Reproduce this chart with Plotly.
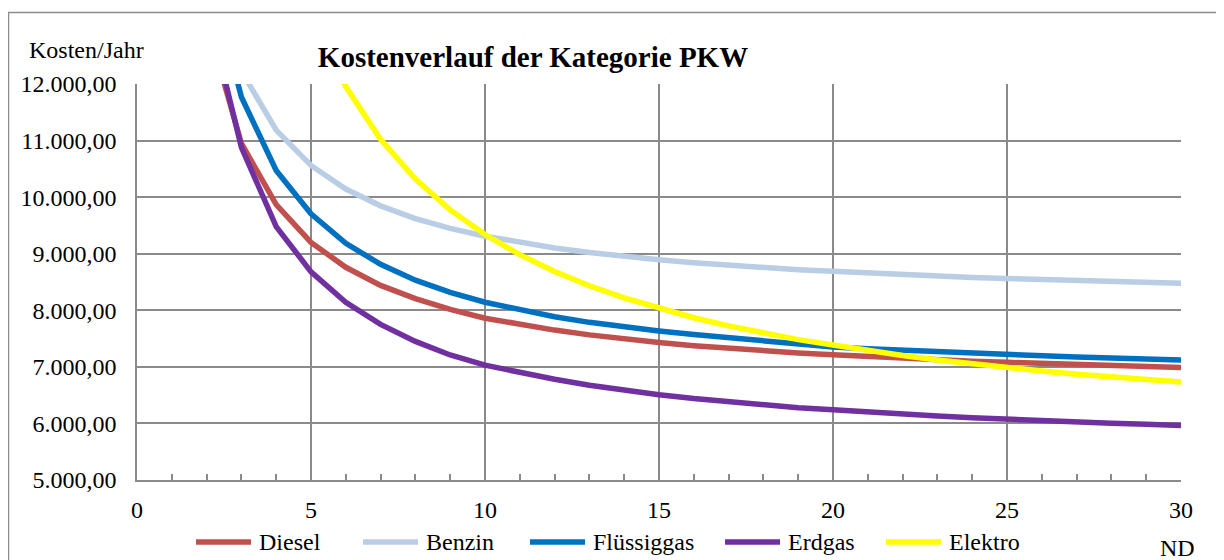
import plotly.graph_objects as go

# ---- data ----
years = list(range(2, 31))
diesel = [13100, 10950, 9870, 9200, 8760, 8440, 8205, 8015, 7860, 7750, 7650, 7565, 7493, 7430,
          7375, 7326, 7283, 7245, 7212, 7180, 7150, 7124, 7100, 7080, 7058, 7039, 7021, 7005, 6990]
benzin = [14310, 12227, 11185, 10560, 10143, 9846, 9622, 9449, 9310, 9196, 9102, 9022, 8953, 8893,
          8841, 8795, 8754, 8718, 8688, 8656, 8628, 8603, 8581, 8561, 8541, 8523, 8506, 8491, 8477]
fluessiggas = [14100, 11770, 10470, 9705, 9184, 8812, 8533, 8316, 8142, 8002, 7886, 7787, 7703, 7635,
               7572, 7516, 7467, 7423, 7350, 7318, 7290, 7262, 7238, 7215, 7194, 7174, 7155, 7137, 7120]
erdgas = [13400, 10880, 9480, 8680, 8140, 7750, 7450, 7210, 7030, 6903, 6780, 6675, 6586, 6508,
          6440, 6380, 6327, 6279, 6240, 6198, 6162, 6130, 6101, 6072, 6049, 6025, 6004, 5984, 5965]
elektro = [25030, 18490, 15220, 13260, 11954, 11020, 10320, 9775, 9339, 8983, 8686, 8434, 8219, 8035,
           7868, 7724, 7596, 7481, 7385, 7285, 7200, 7122, 7051, 6986, 6926, 6870, 6818, 6770, 6730]

series_names = ["Diesel", "Benzin", "Flüssiggas", "Erdgas", "Elektro"]
series_values = [diesel, benzin, fluessiggas, erdgas, elektro]
series_colors = ["#C0504D", "#B9CDE5", "#0070C0", "#7030A0", "#FFFF00"]

title_text = "Kostenverlauf der Kategorie PKW"
y_title = "Kosten/Jahr"
x_title = "ND"

FONT = "Liberation Serif, Times New Roman, serif"
GRID = "#8A8A8A"

# the page places the figure at an 8px offset; work in screenshot pixels
OFF = 8
W, H = 1224 - OFF, 560 - OFF
L, R, T, B = 137 - OFF, 1181 - OFF, 84 - OFF, 480 - OFF
pw, ph = R - L, B - T


def px_x(px):  # screenshot px -> paper
    return (px - OFF - L) / pw


def px_y(py):
    return (B - (py - OFF)) / ph


fig = go.Figure()
for name, vals, col in zip(series_names, series_values, series_colors):
    fig.add_trace(go.Scatter(x=years, y=vals, mode="lines", name=name,
                             line=dict(color=col, width=5.5), showlegend=False))

# custom legend (Excel-style long line samples)
legend_starts = [196, 363, 530, 725, 886]
legend_y = 542
shapes = []
annotations = []
for name, col, s in zip(series_names, series_colors, legend_starts):
    shapes.append(dict(type="line", xref="paper", yref="paper",
                       x0=px_x(s), x1=px_x(s + 55), y0=px_y(legend_y), y1=px_y(legend_y),
                       line=dict(color=col, width=5.5)))
    annotations.append(dict(text=name, xref="paper", yref="paper", x=px_x(s + 61), y=px_y(legend_y),
                            xanchor="left", yanchor="middle", showarrow=False,
                            font=dict(family=FONT, size=24, color="black")))

# outer chart border
shapes.append(dict(type="rect", xref="paper", yref="paper",
                   x0=px_x(8.5), x1=px_x(1217), y0=px_y(575), y1=px_y(12.5),
                   line=dict(color="#8C8C8C", width=1.5), fillcolor="rgba(0,0,0,0)", layer="below"))

annotations.append(dict(text=y_title, xref="paper", yref="paper", x=px_x(27), y=px_y(50),
                        xanchor="left", yanchor="middle", showarrow=False,
                        font=dict(family=FONT, size=24, color="black")))
annotations.append(dict(text=x_title, xref="paper", yref="paper", x=px_x(1177), y=px_y(548),
                        xanchor="center", yanchor="middle", showarrow=False,
                        font=dict(family=FONT, size=24, color="black")))

fig.update_layout(
    width=W, height=H,
    margin=dict(l=L, r=W - R, t=T, b=H - B, pad=0),
    paper_bgcolor="white", plot_bgcolor="white",
    separators=",.",
    font=dict(family=FONT, size=24, color="black"),
    title=dict(text="<b>" + title_text + "</b>", x=(533 - OFF) / W, xref="container", xanchor="center",
               y=1 - (57 - OFF) / H, yref="container", yanchor="middle",
               font=dict(family=FONT, size=29, color="black")),
    shapes=shapes,
    annotations=annotations,
    showlegend=False,
)

fig.update_xaxes(range=[0, 30], dtick=5, tick0=0, showgrid=True, gridcolor=GRID, gridwidth=1.5,
                 showline=True, linecolor=GRID, linewidth=1.5, mirror=False,
                 ticks="inside", ticklen=6, tickcolor=GRID, tickwidth=1.5,
                 minor=dict(dtick=1, ticks="inside", ticklen=6, tickcolor=GRID, tickwidth=1.5, showgrid=False),
                 zeroline=False, ticklabelstandoff=7,
                 tickfont=dict(family=FONT, size=24, color="black"))
fig.update_yaxes(range=[5000, 12000], dtick=1000, tick0=5000, tickformat=",.2f",
                 showgrid=True, gridcolor=GRID, gridwidth=1.5,
                 showline=True, linecolor=GRID, linewidth=1.5,
                 ticks="", zeroline=False, ticklabelstandoff=14,
                 tickfont=dict(family=FONT, size=24, color="black"))

fig.write_html("out.html")
